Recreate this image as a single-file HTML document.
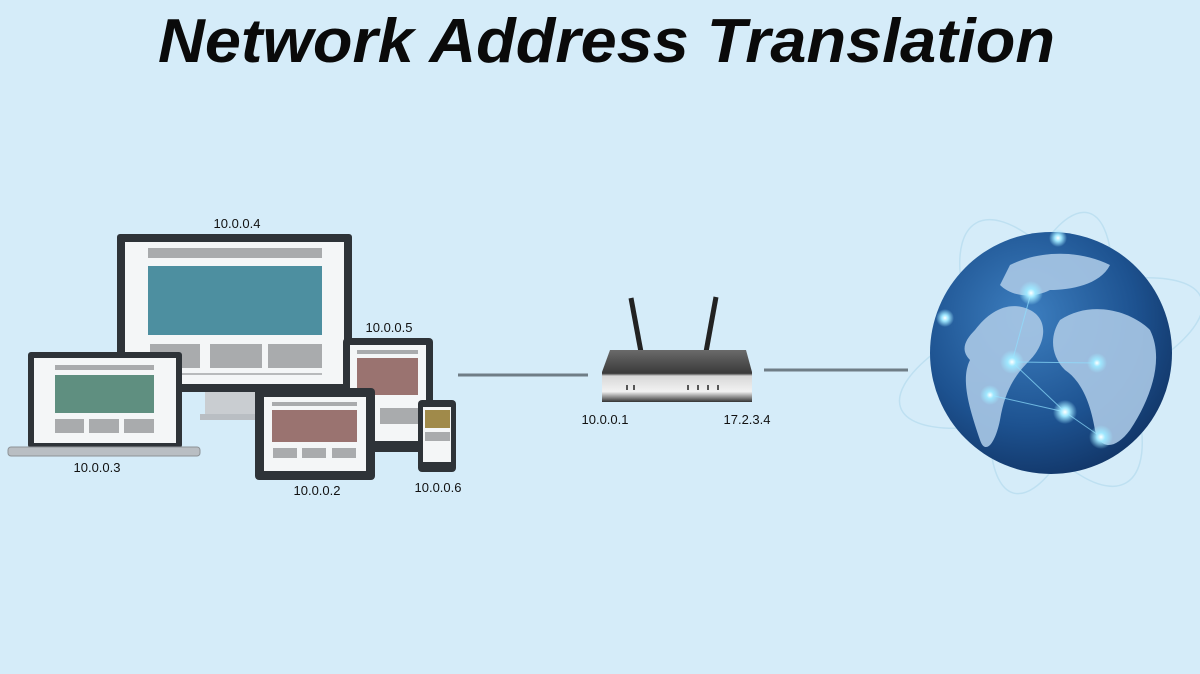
<!DOCTYPE html>
<html><head><meta charset="utf-8"><style>
html,body{margin:0;padding:0;background:#d5ecf9;}
svg{display:block;}
text{font-family:"Liberation Sans",sans-serif;}
</style></head><body>
<svg width="1200" height="674" viewBox="0 0 1200 674" xmlns="http://www.w3.org/2000/svg">
<defs>
<radialGradient id="g" cx="0.4" cy="0.35" r="0.75">
<stop offset="0" stop-color="#3d7fc0"/><stop offset="0.6" stop-color="#1d5290"/><stop offset="1" stop-color="#0f2f5e"/>
</radialGradient>
<radialGradient id="glow"><stop offset="0" stop-color="#ffffff"/><stop offset="0.35" stop-color="#9fe8ff"/><stop offset="1" stop-color="#9fe8ff" stop-opacity="0"/></radialGradient>
<linearGradient id="rb" x1="0" y1="0" x2="0" y2="1"><stop offset="0" stop-color="#6a6a6a"/><stop offset="0.45" stop-color="#3a3a3a"/><stop offset="0.5" stop-color="#d8d8d8"/><stop offset="0.8" stop-color="#f2f2f2"/><stop offset="1" stop-color="#333"/></linearGradient>
</defs>
<rect width="1200" height="674" fill="#d5ecf9"/>
<text x="158" y="62" font-size="62" font-weight="bold" font-style="italic" fill="#0a0a0a" textLength="897" lengthAdjust="spacingAndGlyphs">Network Address Translation</text>

<!-- monitor -->
<rect x="205" y="392" width="60" height="26" fill="#c9cdd1"/>
<rect x="200" y="414" width="72" height="6" fill="#b9bec3"/>
<rect x="117" y="234" width="235" height="158" rx="3" fill="#2e3338"/>
<rect x="125" y="242" width="219" height="142" fill="#f4f6f7"/>
<rect x="148" y="248" width="174" height="10" fill="#a9abad"/>
<rect x="148" y="266" width="174" height="69" fill="#4d8fa0"/>
<rect x="150" y="344" width="50" height="24" fill="#a9abad"/>
<rect x="210" y="344" width="52" height="24" fill="#a9abad"/>
<rect x="268" y="344" width="54" height="24" fill="#a9abad"/>
<rect x="150" y="373" width="172" height="2" fill="#b8babc"/>
<!-- laptop -->
<rect x="28" y="352" width="154" height="96" rx="3" fill="#2e3338"/>
<rect x="34" y="358" width="142" height="85" fill="#f4f6f7"/>
<rect x="55" y="365" width="99" height="5" fill="#a9abad"/>
<rect x="55" y="375" width="99" height="38" fill="#5f8f80"/>
<rect x="55" y="419" width="29" height="14" fill="#a9abad"/>
<rect x="89" y="419" width="30" height="14" fill="#a9abad"/>
<rect x="124" y="419" width="30" height="14" fill="#a9abad"/>
<rect x="8" y="447" width="192" height="9" rx="3" fill="#b9bec3" stroke="#8d9296"/>
<!-- portrait tablet -->
<rect x="343" y="338" width="90" height="114" rx="4" fill="#2e3338"/>
<rect x="350" y="345" width="76" height="96" fill="#f4f6f7"/>
<rect x="357" y="350" width="61" height="4" fill="#a9abad"/>
<rect x="357" y="358" width="61" height="37" fill="#9a7370"/>
<rect x="380" y="408" width="38" height="16" fill="#a9abad"/>
<!-- landscape tablet -->
<rect x="255" y="388" width="120" height="92" rx="4" fill="#2e3338"/>
<rect x="264" y="397" width="102" height="74" fill="#f4f6f7"/>
<rect x="272" y="402" width="85" height="4" fill="#a9abad"/>
<rect x="272" y="410" width="85" height="32" fill="#9a7370"/>
<rect x="273" y="448" width="24" height="10" fill="#a9abad"/>
<rect x="302" y="448" width="24" height="10" fill="#a9abad"/>
<rect x="332" y="448" width="24" height="10" fill="#a9abad"/>
<!-- phone -->
<rect x="418" y="400" width="38" height="72" rx="4" fill="#2e3338"/>
<rect x="423" y="407" width="28" height="55" fill="#f4f6f7"/>
<rect x="425" y="410" width="25" height="18" fill="#a08a4a"/>
<rect x="425" y="432" width="25" height="9" fill="#a9abad"/>
<g font-size="13" fill="#111" text-anchor="middle">
<text x="237" y="228">10.0.0.4</text>
<text x="389" y="332">10.0.0.5</text>
<text x="97" y="472">10.0.0.3</text>
<text x="317" y="495">10.0.0.2</text>
<text x="438" y="492">10.0.0.6</text>
<text x="605" y="424">10.0.0.1</text>
<text x="747" y="424">17.2.3.4</text>
</g>
<!-- lines -->
<line x1="458" y1="375" x2="588" y2="375" stroke="#6f7d86" stroke-width="3"/>
<line x1="764" y1="370" x2="908" y2="370" stroke="#6f7d86" stroke-width="3"/>
<!-- router -->
<line x1="631" y1="298" x2="641" y2="352" stroke="#222" stroke-width="5"/>
<line x1="716" y1="297" x2="706" y2="352" stroke="#222" stroke-width="5"/>
<path d="M610 350 L746 350 L752 372 L752 402 L602 402 L602 372 Z" fill="url(#rb)"/>
<g fill="#555"><rect x="626" y="385" width="2" height="5"/><rect x="633" y="385" width="2" height="5"/><rect x="687" y="385" width="2" height="5"/><rect x="697" y="385" width="2" height="5"/><rect x="707" y="385" width="2" height="5"/><rect x="717" y="385" width="2" height="5"/></g>
<!-- globe -->
<g fill="none" stroke="#b5dbef" stroke-width="1.5" opacity="0.7">
<ellipse cx="1051" cy="353" rx="160" ry="55" transform="rotate(-20 1051 353)"/>
<ellipse cx="1051" cy="353" rx="150" ry="60" transform="rotate(60 1051 353)"/>
<ellipse cx="1051" cy="353" rx="145" ry="50" transform="rotate(-75 1051 353)"/>
</g>
<circle cx="1051" cy="353" r="121" fill="url(#g)"/>
<g fill="#a9c8e6" opacity="0.9">
<path d="M975 330 C990 310 1010 300 1030 310 C1050 320 1045 345 1030 360 C1015 375 1005 390 1000 420 C995 445 985 455 980 440 C970 410 960 380 970 360 C960 350 965 340 975 330Z"/>
<path d="M1060 320 C1090 300 1130 310 1150 330 C1165 360 1150 400 1130 430 C1115 450 1100 450 1095 430 C1090 400 1080 380 1065 370 C1050 355 1050 335 1060 320Z"/>
<path d="M1010 265 C1040 250 1080 250 1110 265 C1100 285 1070 290 1050 290 C1030 300 1010 295 1000 285Z"/>
</g>
<g stroke="#8fe0ff" stroke-width="1" opacity="0.7">
<line x1="1031" y1="293" x2="1012" y2="362"/><line x1="1012" y1="362" x2="1065" y2="412"/><line x1="1065" y1="412" x2="1101" y2="437"/><line x1="1012" y1="362" x2="1097" y2="363"/><line x1="990" y1="395" x2="1065" y2="412"/>
</g>
<g fill="url(#glow)">
<circle cx="1031" cy="293" r="12"/><circle cx="1012" cy="362" r="12"/><circle cx="990" cy="395" r="10"/><circle cx="1065" cy="412" r="12"/><circle cx="1101" cy="437" r="12"/><circle cx="1097" cy="363" r="10"/><circle cx="945" cy="318" r="9"/><circle cx="1058" cy="238" r="9"/>
</g>
</svg>
</body></html>
